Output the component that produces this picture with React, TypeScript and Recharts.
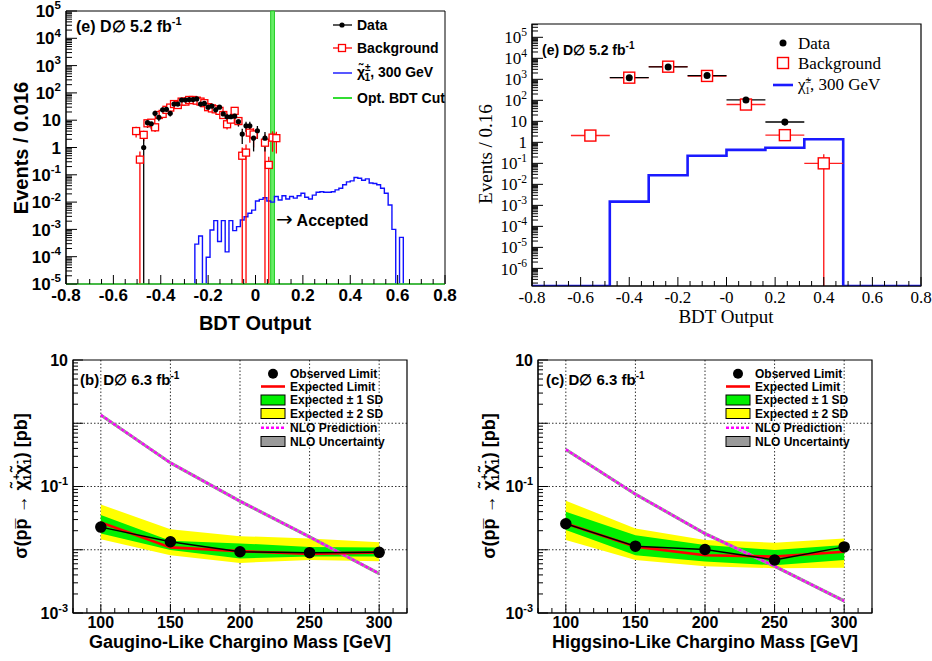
import React from 'react';
import {
  ComposedChart,
  Line,
  Scatter,
  Area,
  XAxis,
  YAxis,
  ErrorBar,
  ReferenceArea,
  CartesianGrid,
} from 'recharts';

const SANS = '"Liberation Sans", Arial, Helvetica, sans-serif';
const SERIF = '"Liberation Serif", "Times New Roman", serif';
const W = 932;
const H = 661;

// ---- (e) fine binning: 100 bins of 0.016 over [-0.8, 0.8] ----
const fineBinWidth = 0.016;
const fineYRange = [1e-5, 1e5];
const fineEmpty = 1e-6; // empty bins sit below the axis floor
const fineBgFirstBin = 18;
const fineBg = [
  4.0, 0.36, 2.9, 7.7, 8.1, 5.5, 15.5, 17, 24, 29, 39, 36, 48, 48, 55, 55, 52, 48, 42,
  30, 27, 25, 22, 15.5, 7.1, 10.5, 22, 9.3, 0.5, 0.65, 3.5, 3.0, null, null, 1.5, 0.23,
  2.3, 2.2,
];
const fineBgErr = [
  1.7, 0.36, 1.2, 2.2, 2.2, 1.8, 3, 3, 3.5, 4, 4.5, 4.5, 5, 5, 5.5, 5.5, 5.5, 5, 5, 4.5,
  4, 4, 4, 3.5, 2.5, 3, 5, 3, 0.5, 0.65, 2, 2, null, null, 1.5, 0.23, 1.6, 1.6,
];
const fineDataFirstBin = 20;
const fineData = [
  1, 8.1, 7.4, 17.8, 12.7, 24, 25, 17.8, 39, 39, 55, 55, 57, 57, 60, 39, 41, 30, 33, 24,
  30, 17, 13.4, 13.4, 14, 8.8, 3.1, 6.2, 6.2, 2.2, 4.1, null, 2.2,
];
const fineSigFirstBin = 34;
const fineSig = [
  2.9e-4, 5.7e-4, 0, 9.5e-5, 9.5e-4, 2.1e-3, 3.6e-4, 2.1e-3, 1.5e-4, 2.1e-3, 9.0e-4,
  1.26e-3, 2.2e-3, 2.9e-3, 3.9e-3, 5.1e-3, 1.1e-2, 1.26e-2, 1.45e-2, 1.1e-2, 1.0e-2,
  1.6e-2, 1.2e-2, 1.7e-2, 1.3e-2, 1.6e-2, 1.4e-2, 1.7e-2, 2.1e-2, 1.5e-2, 1.3e-2, 1.8e-2,
  2.3e-2, 2.4e-2, 2.3e-2, 2.3e-2, 2.4e-2, 2.8e-2, 3.2e-2, 4.3e-2, 5.5e-2, 6.0e-2, 8.0e-2,
  7.5e-2, 6.3e-2, 7.1e-2, 5.0e-2, 4.8e-2, 4.3e-2, 3.2e-2, 2.1e-2, 7.8e-3, 1.0e-3, 0,
  5.1e-4,
];
const optCut = [0.064, 0.08];

// ---- (e) coarse binning: 10 bins of 0.16 ----
const coarseYRange = [1.45e-7, 4.3e5];
const coarseHalfWidth = 0.08;
const coarseBgCenters = [-0.56, -0.4, -0.24, -0.08, 0.08, 0.24, 0.4];
const coarseBg = [2.1, 1200, 4000, 1450, 63, 2.2, 0.1];
const coarseBgErr = [0.5, 80, 200, 90, 8, 0.5, 0.17];
const coarseDataCenters = [-0.4, -0.24, -0.08, 0.08, 0.24];
const coarseData = [1200, 3900, 1500, 105, 9.3];
const coarseEdges = [-0.8, -0.64, -0.48, -0.32, -0.16, 0, 0.16, 0.32, 0.48, 0.64, 0.8];
const coarseSig = [0, 0, 1.5e-3, 0.027, 0.23, 0.44, 0.55, 1.4, 0, 0];

const bdtMajor = [-0.8, -0.6, -0.4, -0.2, 0, 0.2, 0.4, 0.6, 0.8];
const fineXLabels = ['-0.8', '-0.6', '-0.4', '-0.2', '0', '0.2', '0.4', '0.6', '0.8'];
const coarseXLabels = ['-0.8', '-0.6', '-0.4', '-0.2', '-0', '0.2', '0.4', '0.6', '0.8'];

// ---- limit plots ----
const masses = [100, 150, 200, 250, 300];
const massMajor = [100, 150, 200, 250, 300];
const massLabels = ['100', '150', '200', '250', '300'];
const limitYRange = [1e-3, 10];
const gauObs = [0.0228, 0.0134, 0.0093, 0.009, 0.0091];
const gauExp = [0.027, 0.0109, 0.0095, 0.0086, 0.0091];
const gau1Lo = [0.0181, 0.0099, 0.0073, 0.0078, 0.0078];
const gau1Hi = [0.0353, 0.0139, 0.0126, 0.0111, 0.0109];
const gau2Lo = [0.0146, 0.0082, 0.0062, 0.0069, 0.0066];
const gau2Hi = [0.052, 0.021, 0.0164, 0.0151, 0.0131];
const gauNlo = [1.35, 0.237, 0.0586, 0.016, 0.0042];
const higObs = [0.0258, 0.0114, 0.0101, 0.0069, 0.0111];
const higExp = [0.026, 0.0112, 0.0082, 0.0078, 0.0093];
const hig1Lo = [0.0205, 0.0082, 0.0065, 0.0057, 0.0069];
const hig1Hi = [0.0399, 0.017, 0.0119, 0.0099, 0.0119];
const hig2Lo = [0.0142, 0.0069, 0.0055, 0.0051, 0.0052];
const hig2Hi = [0.0596, 0.0217, 0.0142, 0.0129, 0.0151];
const higNlo = [0.385, 0.0757, 0.018, 0.0055, 0.00155];
const nloRelUnc = [0.05, 0.05, 0.05, 0.05, 0.05];

// ---- helpers ----
const errPair = (v: number, e: number, floor: number) => [v - Math.max(v - e, floor), e];
const logTicks = (lo: number, hi: number, min: number, max: number) => {
  const t: number[] = [];
  for (let e = lo; e <= hi; e++) {
    for (let m = 1; m <= 9; m++) {
      const v = m * Math.pow(10, e);
      if (v >= min * 0.999 && v <= max * 1.001) t.push(v);
    }
  }
  return t;
};
const linTicks = (from: number, to: number, step: number) => {
  const t: number[] = [];
  const n = Math.round((to - from) / step);
  for (let i = 0; i <= n; i++) t.push(+(from + i * step).toFixed(4));
  return t;
};

const fineCenter = (k: number) => -0.8 + fineBinWidth * (k + 0.5);
const fineBgPts = fineBg.flatMap((v, i) =>
  v == null
    ? []
    : [{ x: fineCenter(fineBgFirstBin + i), y: v, err: errPair(v, fineBgErr[i] ?? 0, fineYRange[0]) }]
);
const fineDataPts = fineData.flatMap((v, i) =>
  v == null
    ? []
    : [{ x: fineCenter(fineDataFirstBin + i), y: v, err: errPair(v, Math.sqrt(v), fineYRange[0]) }]
);
const fineSigLine = Array.from({ length: 101 }, (_, k) => {
  const i = k - fineSigFirstBin;
  const v = i >= 0 && i < fineSig.length ? fineSig[i] : 0;
  return { x: -0.8 + fineBinWidth * k, y: v > 0 ? v : fineEmpty };
});

const coarseBgPts = coarseBg.map((v, i) => ({
  x: coarseBgCenters[i],
  y: v,
  err: errPair(v, coarseBgErr[i], coarseYRange[0]),
  xErr: coarseHalfWidth,
}));
const coarseDataPts = coarseData.map((v, i) => ({
  x: coarseDataCenters[i],
  y: v,
  err: errPair(v, Math.sqrt(v), coarseYRange[0]),
  xErr: coarseHalfWidth,
}));
const coarseSigLine = coarseEdges.map((x, i) => ({
  x,
  y: i < coarseSig.length && coarseSig[i] > 0 ? coarseSig[i] : coarseYRange[0],
}));

const limitRows = (obs: number[], exp: number[], lo1: number[], hi1: number[], lo2: number[], hi2: number[], nlo: number[]) =>
  masses.map((m, i) => ({
    m,
    obs: obs[i],
    exp: exp[i],
    band1: [lo1[i], hi1[i]],
    band2: [lo2[i], hi2[i]],
    nlo: nlo[i],
    nloBand: [nlo[i] * (1 - nloRelUnc[i]), nlo[i] * (1 + nloRelUnc[i])],
  }));
const gauRows = limitRows(gauObs, gauExp, gau1Lo, gau1Hi, gau2Lo, gau2Hi, gauNlo);
const higRows = limitRows(higObs, higExp, hig1Lo, hig1Hi, hig2Lo, hig2Hi, higNlo);

// ---- tick renderers (ROOT style: ticks inside the frame) ----
type LogCfg = { font: string; weight: number | string; size: number; exps: number[]; major: number; minor: number; gap: number };
const makeLogTick = (c: LogCfg) => (p: any) => {
  const { x, y, payload } = p;
  const v = payload?.value;
  if (!(v > 0)) return <g />;
  const lg = Math.log10(v);
  const e = Math.round(lg);
  const dec = Math.abs(lg - e) < 1e-6;
  const show = dec && c.exps.includes(e);
  return (
    <g>
      <line x1={x} y1={y} x2={x + (dec ? c.major : c.minor)} y2={y} stroke="#000" strokeWidth={1} />
      {show && (
        <text
          x={x - c.gap}
          y={y}
          dy={c.size * 0.36}
          textAnchor="end"
          fontFamily={c.font}
          fontWeight={c.weight}
          fontSize={c.size}
          fill="#000"
        >
          {e === 0 ? '1' : e === 1 ? '10' : (
            <>
              10
              <tspan dy={-c.size * 0.45} fontSize={c.size * 0.68}>{String(e)}</tspan>
            </>
          )}
        </text>
      )}
    </g>
  );
};

type LinCfg = { font: string; weight: number | string; size: number; majors: number[]; labels: string[]; major: number; minor: number; gap: number };
const makeLinTick = (c: LinCfg) => (p: any) => {
  const { x, y, payload } = p;
  const v = payload?.value;
  const i = c.majors.findIndex((m) => Math.abs(m - v) < 1e-6);
  return (
    <g>
      <line x1={x} y1={y} x2={x} y2={y - (i >= 0 ? c.major : c.minor)} stroke="#000" strokeWidth={1} />
      {i >= 0 && (
        <text
          x={x}
          y={y + c.gap}
          dy={c.size * 0.36}
          textAnchor="middle"
          fontFamily={c.font}
          fontWeight={c.weight}
          fontSize={c.size}
          fill="#000"
        >
          {c.labels[i]}
        </text>
      )}
    </g>
  );
};

const fineYTick = makeLogTick({ font: SANS, weight: 700, size: 17, exps: [-5, -4, -3, -2, -1, 0, 1, 2, 3, 4, 5], major: 11, minor: 6, gap: 5 });
const fineXTick = makeLinTick({ font: SANS, weight: 700, size: 17, majors: bdtMajor, labels: fineXLabels, major: 9, minor: 5, gap: 11 });
const coarseYTick = makeLogTick({ font: SERIF, weight: 400, size: 17, exps: [-6, -5, -4, -3, -2, -1, 0, 1, 2, 3, 4, 5], major: 11, minor: 6, gap: 5 });
const coarseXTick = makeLinTick({ font: SERIF, weight: 400, size: 17, majors: bdtMajor, labels: coarseXLabels, major: 9, minor: 5, gap: 11 });
const limitYTick = makeLogTick({ font: SANS, weight: 700, size: 16, exps: [-3, -1, 1], major: 10, minor: 5, gap: 5 });
const limitXTick = makeLinTick({ font: SANS, weight: 700, size: 16, majors: massMajor, labels: massLabels, major: 9, minor: 5, gap: 9 });

const bdtTicks = linTicks(-0.8, 0.8, 0.05);
const massTicks = linTicks(80, 320, 10);

const box = (l: number, t: number, r: number, b: number) => ({ top: t, left: l - 50, right: W - r, bottom: H - b - 30 });
const layer: React.CSSProperties = { position: 'absolute', left: 0, top: 0 };

const RedSquare = (s: number, fill: string, sw: number) => (p: any) =>
  <rect x={p.cx - s / 2} y={p.cy - s / 2} width={s} height={s} fill={fill} stroke="#ff0000" strokeWidth={sw} />;
const BlackDot = (r: number) => (p: any) => <circle cx={p.cx} cy={p.cy} r={r} fill="#000" />;

const FinePanel = () => (
  <ComposedChart width={W} height={H} margin={box(66, 11, 445, 284)}>
    <XAxis type="number" dataKey="x" domain={[-0.8, 0.8]} allowDataOverflow ticks={bdtTicks} interval={0}
      tickSize={0} tickMargin={0} tick={fineXTick} height={30} axisLine={{ stroke: '#33cc33', strokeWidth: 1.5 }} />
    <YAxis type="number" scale="log" domain={fineYRange} allowDataOverflow ticks={logTicks(-5, 5, 1e-5, 1e5)}
      interval={0} tickSize={0} tickMargin={0} tick={fineYTick} width={50} axisLine={{ stroke: '#000' }} />
    <ReferenceArea x1={-0.8} x2={0.8} y1={fineYRange[0]} y2={fineYRange[1]} fill="none" stroke="#000" strokeWidth={1} />
    <Line data={fineSigLine} dataKey="y" type="stepAfter" stroke="#1010ff" strokeWidth={1.4} dot={false} isAnimationActive={false} />
    <Scatter data={fineBgPts} dataKey="y" shape={RedSquare(7, '#fff', 1.3)} isAnimationActive={false}>
      <ErrorBar dataKey="err" direction="y" width={0} stroke="#ff0000" strokeWidth={1.3} />
    </Scatter>
    <Scatter data={fineDataPts} dataKey="y" shape={BlackDot(2.6)} isAnimationActive={false}>
      <ErrorBar dataKey="err" direction="y" width={0} stroke="#000" strokeWidth={1.3} />
    </Scatter>
    <ReferenceArea x1={optCut[0]} x2={optCut[1]} y1={fineYRange[0]} y2={fineYRange[1]} fill="#66ee66" fillOpacity={1} stroke="#22cc22" strokeWidth={1} />
  </ComposedChart>
);

const CoarsePanel = () => (
  <ComposedChart width={W} height={H} margin={box(532, 24, 921, 286)}>
    <XAxis type="number" dataKey="x" domain={[-0.8, 0.8]} allowDataOverflow ticks={bdtTicks} interval={0}
      tickSize={0} tickMargin={0} tick={coarseXTick} height={30} axisLine={{ stroke: '#000' }} />
    <YAxis type="number" scale="log" domain={coarseYRange} allowDataOverflow ticks={logTicks(-7, 5, coarseYRange[0], coarseYRange[1])}
      interval={0} tickSize={0} tickMargin={0} tick={coarseYTick} width={50} axisLine={{ stroke: '#000' }} />
    <ReferenceArea x1={-0.8} x2={0.8} y1={coarseYRange[0]} y2={coarseYRange[1]} fill="none" stroke="#000" strokeWidth={1.2} />
    <Line data={coarseSigLine} dataKey="y" type="stepAfter" stroke="#1a1aff" strokeWidth={2.6} dot={false} isAnimationActive={false} />
    <Scatter data={coarseBgPts} dataKey="y" shape={RedSquare(11, '#fff', 1.4)} isAnimationActive={false}>
      <ErrorBar dataKey="xErr" direction="x" width={0} stroke="#ff2020" strokeWidth={1.4} />
      <ErrorBar dataKey="err" direction="y" width={0} stroke="#ff2020" strokeWidth={1.4} />
    </Scatter>
    <Scatter data={coarseDataPts} dataKey="y" shape={BlackDot(3.5)} isAnimationActive={false}>
      <ErrorBar dataKey="xErr" direction="x" width={0} stroke="#000" strokeWidth={1.4} />
      <ErrorBar dataKey="err" direction="y" width={0} stroke="#000" strokeWidth={1.4} />
    </Scatter>
  </ComposedChart>
);

const LimitPanel = ({ rows, l, r }: { rows: any[]; l: number; r: number }) => (
  <ComposedChart width={W} height={H} margin={box(l, 360, r, 613)} data={rows}>
    <CartesianGrid horizontalValues={[0.01, 0.1, 1]} verticalValues={massMajor} stroke="#333" strokeDasharray="1.5 2" />
    <XAxis type="number" dataKey="m" domain={[80, 320]} allowDataOverflow ticks={massTicks} interval={0}
      tickSize={0} tickMargin={0} tick={limitXTick} height={30} axisLine={{ stroke: '#000' }} />
    <YAxis type="number" scale="log" domain={limitYRange} allowDataOverflow ticks={logTicks(-3, 1, 1e-3, 10)}
      interval={0} tickSize={0} tickMargin={0} tick={limitYTick} width={50} axisLine={{ stroke: '#000' }} />
    <Area dataKey="band2" type="linear" fill="#ffff00" fillOpacity={1} stroke="none" isAnimationActive={false} />
    <Area dataKey="band1" type="linear" fill="#00f000" fillOpacity={1} stroke="none" isAnimationActive={false} />
    <Area dataKey="nloBand" type="linear" fill="#9a9a9a" fillOpacity={1} stroke="#9a9a9a" strokeWidth={1} isAnimationActive={false} />
    <Line dataKey="nlo" type="linear" stroke="#ff00ff" strokeWidth={2.4} strokeDasharray="3 2" dot={false} isAnimationActive={false} />
    <Line dataKey="exp" type="linear" stroke="#ff0000" strokeWidth={2.6} dot={false} isAnimationActive={false} />
    <Line dataKey="obs" type="linear" stroke="#000" strokeWidth={1.5} dot={{ r: 5, fill: '#000', stroke: '#000' }} isAnimationActive={false} />
    <ReferenceArea x1={80} x2={320} y1={limitYRange[0]} y2={limitYRange[1]} fill="none" stroke="#000" strokeWidth={1.2} />
  </ComposedChart>
);

const sansB = { fontFamily: SANS, fontWeight: 700, fill: '#000' } as const;
const serif = { fontFamily: SERIF, fontWeight: 400, fill: '#000' } as const;

const LimitLegend = ({ mx, tx }: { mx: number; tx: number }) => {
  const rows = [373.7, 386.5, 400, 413.5, 427.7, 441.5];
  const lbl = ['Observed Limit', 'Expected Limit', 'Expected \u00b1 1 SD', 'Expected \u00b1 2 SD', 'NLO Prediction', 'NLO Uncertainty'];
  return (
    <g>
      <circle cx={mx} cy={rows[0]} r={5} fill="#000" />
      <line x1={mx - 12} x2={mx + 12} y1={rows[1]} y2={rows[1]} stroke="#ff0000" strokeWidth={2.6} />
      <rect x={mx - 12} y={rows[2] - 5} width={24} height={10} fill="#00f000" stroke="#000" strokeWidth={1} />
      <rect x={mx - 12} y={rows[3] - 5} width={24} height={10} fill="#ffff00" stroke="#000" strokeWidth={1} />
      <line x1={mx - 12} x2={mx + 12} y1={rows[4]} y2={rows[4]} stroke="#ff00ff" strokeWidth={2.6} strokeDasharray="3 2" />
      <rect x={mx - 12} y={rows[5] - 5} width={24} height={10} fill="#9a9a9a" stroke="#000" strokeWidth={1} />
      {lbl.map((t, i) => (
        <text key={t} x={tx} y={rows[i]} dy={4.3} fontSize={12} {...sansB}>{t}</text>
      ))}
    </g>
  );
};

const SigmaTitle = ({ cx, cy }: { cx: number; cy: number }) => (
  <text transform={`translate(${cx},${cy}) rotate(-90)`} textAnchor="middle" dy={6.5} fontSize={18} {...sansB}>
    {'\u03c3(p'}
    <tspan>{'p\u0305'}</tspan>
    {' \u2192 \u03c7\u0303'}
    <tspan dy={-7} fontSize={11}>+</tspan>
    <tspan dx={-7} dy={11} fontSize={11}>1</tspan>
    <tspan dy={-4}>{'\u03c7\u0303'}</tspan>
    <tspan dy={-7} fontSize={11}>-</tspan>
    <tspan dx={-4} dy={11} fontSize={11}>1</tspan>
    <tspan dy={-4}>) [pb]</tspan>
  </text>
);

const Overlay = () => (
  <svg width={W} height={H} style={{ ...layer, pointerEvents: 'none' }}>
    {/* top-left panel */}
    <text transform="translate(21,148) rotate(-90)" textAnchor="middle" dy={7} fontSize={20} {...sansB}>Events / 0.016</text>
    <text x={255} y={330} textAnchor="middle" fontSize={20} {...sansB}>BDT Output</text>
    <text x={76} y={32} fontSize={16} {...sansB}>
      {'(e) D\u2205 5.2 fb'}
      <tspan dy={-7} fontSize={11}>-1</tspan>
    </text>
    <line x1={333} x2={352} y1={25} y2={25} stroke="#000" strokeWidth={1.3} />
    <circle cx={342} cy={25} r={2.6} fill="#000" />
    <text x={357} y={30} fontSize={14} {...sansB}>Data</text>
    <line x1={333} x2={352} y1={48} y2={48} stroke="#ff0000" strokeWidth={1.3} />
    <rect x={338.5} y={44.5} width={7} height={7} fill="#fff" stroke="#ff0000" strokeWidth={1.3} />
    <text x={357} y={53} fontSize={14} {...sansB}>Background</text>
    <line x1={333} x2={352} y1={73} y2={73} stroke="#1010ff" strokeWidth={1.4} />
    <text x={357} y={77} fontSize={14} {...sansB}>
      {'\u03c7\u0303'}
      <tspan dy={-6} fontSize={10}>{'\u00b1'}</tspan>
      <tspan dx={-6} dy={10} fontSize={10}>1</tspan>
      <tspan dy={-4}>, 300 GeV</tspan>
    </text>
    <line x1={333} x2={352} y1={98} y2={98} stroke="#33dd33" strokeWidth={2} />
    <text x={357} y={103} fontSize={14} {...sansB}>Opt. BDT Cut</text>
    <text x={276} y={226} fontSize={16} {...sansB}>
      <tspan fontWeight={400} fontSize={20} fontFamily="DejaVu Sans">{'\u2192'}</tspan> Accepted
    </text>

    {/* top-right panel */}
    <text transform="translate(485,154) rotate(-90)" textAnchor="middle" dy={6.5} fontSize={19} {...serif}>Events / 0.16</text>
    <text x={726} y={323} textAnchor="middle" fontSize={19} {...serif}>BDT Output</text>
    <text x={542} y={55} fontSize={14} {...sansB}>
      {'(e)  D\u2205 5.2 fb'}
      <tspan dy={-6} fontSize={10}>-1</tspan>
    </text>
    <circle cx={783} cy={43} r={3.5} fill="#000" />
    <text x={798} y={49} fontSize={17} {...serif}>Data</text>
    <rect x={777.5} y={57.5} width={11} height={11} fill="#fff" stroke="#ff0000" strokeWidth={1.4} />
    <text x={798} y={69} fontSize={17} {...serif}>Background</text>
    <line x1={773} x2={793} y1={85} y2={85} stroke="#1a1aff" strokeWidth={2.6} />
    <text x={798} y={90} fontSize={17} {...serif}>
      {'\u03c7\u0303'}
      <tspan dy={-7} fontSize={10}>{'\u00b1'}</tspan>
      <tspan dx={-6} dy={11} fontSize={10}>1</tspan>
      <tspan dy={-4}>, 300 GeV</tspan>
    </text>

    {/* bottom-left panel */}
    <SigmaTitle cx={20} cy={486} />
    <text x={240} y={648} textAnchor="middle" fontSize={18} {...sansB}>Gaugino-Like Chargino Mass [GeV]</text>
    <text x={80} y={385} fontSize={15} {...sansB}>
      {'(b) D\u2205 6.3 fb'}
      <tspan dy={-6} fontSize={10}>-1</tspan>
    </text>
    <LimitLegend mx={273} tx={290} />

    {/* bottom-right panel */}
    <SigmaTitle cx={488} cy={486} />
    <text x={705} y={648} textAnchor="middle" fontSize={18} {...sansB}>Higgsino-Like Chargino Mass [GeV]</text>
    <text x={546} y={385} fontSize={15} {...sansB}>
      {'(c) D\u2205 6.3 fb'}
      <tspan dy={-6} fontSize={10}>-1</tspan>
    </text>
    <LimitLegend mx={738} tx={755} />
  </svg>
);

export default function App() {
  return (
    <div style={{ position: 'absolute', left: 0, top: 0, width: W, height: H, background: '#fff', overflow: 'hidden' }}>
      <div style={layer}><FinePanel /></div>
      <div style={layer}><CoarsePanel /></div>
      <div style={layer}><LimitPanel rows={gauRows} l={73} r={407} /></div>
      <div style={layer}><LimitPanel rows={higRows} l={538} r={872} /></div>
      <Overlay />
    </div>
  );
}
